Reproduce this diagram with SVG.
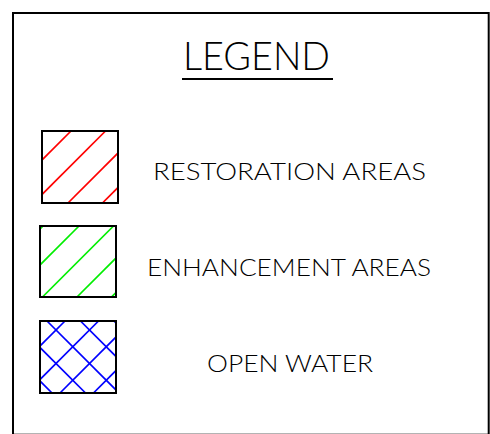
<svg xmlns="http://www.w3.org/2000/svg" width="490" height="434" viewBox="0 0 490 434">
<style>
  .frame{fill:#fff;stroke:#000;stroke-width:2}
  .box{fill:none;stroke:#000;stroke-width:2}
  .hatch{stroke-width:1.6;fill:none}
  .red{stroke:#ff0000}
  .green{stroke:#00ee00}
  .blue{stroke:#0000ff}
  .lbl{font-family:"Lato","Liberation Sans","DejaVu Sans",sans-serif;font-weight:300;fill:#000;text-anchor:middle}
</style>
<defs>
  <clipPath id="c1"><rect x="42" y="131" width="76" height="72"/></clipPath>
  <clipPath id="c2"><rect x="40" y="226" width="76" height="71"/></clipPath>
  <clipPath id="c3"><rect x="40" y="321" width="76" height="72"/></clipPath>
</defs>
<rect class="frame" x="13" y="13" width="475.7" height="421.7"/>
<g id="title">
  <text class="lbl" x="256.5" y="70" font-size="39" textLength="147" lengthAdjust="spacingAndGlyphs">LEGEND</text>
  <line x1="182" y1="79" x2="333" y2="79" stroke="#000" stroke-width="2"/>
</g>
<g id="restoration">
  <g clip-path="url(#c1)" class="hatch red">
    <line x1="0" y1="202" x2="202" y2="0"/>
    <line x1="0" y1="236.5" x2="236.5" y2="0"/>
    <line x1="0" y1="271" x2="271" y2="0"/>
    <line x1="0" y1="305.5" x2="305.5" y2="0"/>
  </g>
  <rect class="box" x="42" y="131" width="76" height="72"/>
  <text class="lbl" x="289.5" y="180" font-size="23.5" textLength="273" lengthAdjust="spacingAndGlyphs">RESTORATION AREAS</text>
</g>
<g id="enhancement">
  <g clip-path="url(#c2)" class="hatch green">
    <line x1="0" y1="269" x2="269" y2="0"/>
    <line x1="0" y1="305" x2="305" y2="0"/>
    <line x1="0" y1="339.5" x2="339.5" y2="0"/>
    <line x1="0" y1="374" x2="374" y2="0"/>
    <line x1="0" y1="408.5" x2="408.5" y2="0"/>
  </g>
  <rect class="box" x="40" y="226" width="76" height="71"/>
  <text class="lbl" x="289" y="276" font-size="23.5" textLength="284" lengthAdjust="spacingAndGlyphs">ENHANCEMENT AREAS</text>
</g>
<g id="openwater">
  <g clip-path="url(#c3)" class="hatch blue">
    <line x1="0" y1="386" x2="386" y2="0"/>
    <line x1="0" y1="419.5" x2="419.5" y2="0"/>
    <line x1="0" y1="453" x2="453" y2="0"/>
    <line x1="0" y1="486.5" x2="486.5" y2="0"/>
    <line x1="0" y1="341" x2="200" y2="541"/>
    <line x1="0" y1="307.5" x2="200" y2="507.5"/>
    <line x1="0" y1="274" x2="200" y2="474"/>
    <line x1="0" y1="240.5" x2="200" y2="440.5"/>
    <line x1="0" y1="207" x2="200" y2="407"/>
  </g>
  <rect class="box" x="40" y="321" width="76" height="72"/>
  <text class="lbl" x="290" y="372" font-size="23.5" textLength="166" lengthAdjust="spacingAndGlyphs">OPEN WATER</text>
</g>
</svg>
